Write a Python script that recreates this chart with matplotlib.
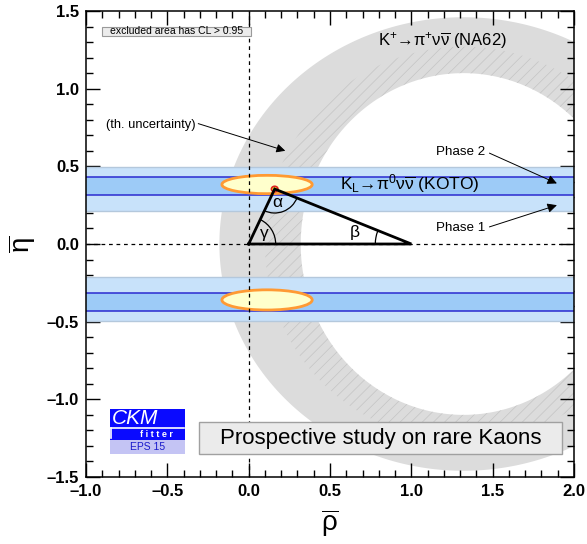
import numpy as np
import matplotlib
matplotlib.use("Agg")
import matplotlib.pyplot as plt
from matplotlib.patches import Rectangle, Ellipse, PathPatch, Arc
from matplotlib.path import Path
from matplotlib.ticker import MultipleLocator, FuncFormatter

plt.rcParams['font.family'] = ['Liberation Sans', 'DejaVu Sans']
plt.rcParams['mathtext.fontset'] = 'custom'
plt.rcParams['mathtext.rm'] = 'Liberation Sans'
plt.rcParams['mathtext.it'] = 'Liberation Sans:italic'
plt.rcParams['mathtext.bf'] = 'Liberation Sans:bold'
plt.rcParams['mathtext.default'] = 'regular'
plt.rcParams['hatch.linewidth'] = 0.5
plt.rcParams['hatch.color'] = '#c0c0c0'

# ---------------- data ----------------
x_range = [-1.0, 2.0]
y_range = [-1.5, 1.5]
tick_major = 0.5
tick_minor = 0.1

# K+ -> pi+ nu nubar (NA62) ring: center rho, semi-axes (rho, eta)
na62_center = 1.32
na62_outer = [1.50, 1.46]
na62_mid = [1.22, 1.27]
na62_inner = [1.00, 1.10]

# KOTO bands (eta ranges), mirrored in eta
koto_phase1 = [0.21, 0.495]
koto_phase2 = [0.315, 0.43]

# combined fit regions (center rho, center eta, width, height)
fit_upper = [0.113, 0.383, 0.555, 0.118]
fit_lower = [0.113, -0.36, 0.555, 0.13]

# unitarity triangle apex
apex = [0.16, 0.354]

# ---------------- figure ----------------
fig = plt.figure(figsize=(5.87, 5.44), dpi=100)
ax = fig.add_axes([86/587, 1-477/544, 488/587, 466/544])
ax.set_xlim(*x_range)
ax.set_ylim(*y_range)


def ellipse_pts(c, a, b, n=400, reverse=False):
    t = np.linspace(0, 2*np.pi, n)
    if reverse:
        t = t[::-1]
    return np.column_stack([c + a*np.cos(t), b*np.sin(t)])


def ring_path(c, outer, inner):
    o = ellipse_pts(c, outer[0], outer[1])
    i = ellipse_pts(c, inner[0], inner[1], reverse=True)
    verts = np.vstack([o, i])
    codes = np.full(len(verts), Path.LINETO)
    codes[0] = Path.MOVETO
    codes[len(o)] = Path.MOVETO
    return Path(verts, codes)


ax.add_patch(PathPatch(ring_path(na62_center, na62_outer, na62_inner),
                       facecolor='#dcdcdc', edgecolor='none', zorder=1))
ax.add_patch(PathPatch(ring_path(na62_center, na62_mid, na62_inner),
                       facecolor='none', edgecolor='#c4c4c4', lw=0,
                       hatch='///', zorder=1.1))

# KOTO bands
for s in (1, -1):
    lo, hi = sorted([s*koto_phase1[0], s*koto_phase1[1]])
    ax.axhspan(lo, hi, color='#c8e2fa', zorder=2, lw=0)
    ax.axhline(lo, color='#b4c8dc', lw=1.0, zorder=2.1)
    ax.axhline(hi, color='#b4c8dc', lw=1.0, zorder=2.1)
    lo2, hi2 = sorted([s*koto_phase2[0], s*koto_phase2[1]])
    ax.axhspan(lo2, hi2, color='#9dcbf7', zorder=2.2, lw=0)
    ax.axhline(lo2, color='#2b2bd0', lw=1.1, zorder=2.3)
    ax.axhline(hi2, color='#2b2bd0', lw=1.1, zorder=2.3)

# combined fit regions
for f in (fit_upper, fit_lower):
    ax.add_patch(Ellipse((f[0], f[1]), f[2], f[3], facecolor='#ffffcc',
                         edgecolor='#ff9a33', lw=2.0, zorder=3))
ax.add_patch(Ellipse((apex[0], apex[1]), 0.04, 0.035, facecolor='#ffff33',
                     edgecolor='#e02020', lw=1.2, zorder=3.5))

# dashed axes lines
ax.axvline(0, color='k', ls=(0, (3, 3)), lw=0.9, zorder=4)
ax.axhline(0, color='k', ls=(0, (3, 3)), lw=0.9, zorder=4)

# triangle
tri_x = [0, 1, apex[0], 0]
tri_y = [0, 0, apex[1], 0]
ax.plot(tri_x, tri_y, color='k', lw=2.0, zorder=5, solid_joinstyle='miter')

# angle arcs (in pixel space -> data)
sx = 488/3.0
sy = 466/3.0


def ang(p, q):
    return np.degrees(np.arctan2((q[1]-p[1])*sy, (q[0]-p[0])*sx))


def arc(p, r_px, a1, a2):
    ax.add_patch(Arc(p, 2*r_px/sx, 2*r_px/sy, theta1=a1, theta2=a2,
                     color='k', lw=0.9, zorder=5))


O = (0, 0); B = (1, 0); A = tuple(apex)
arc(O, 27, 0, ang(O, A))
arc(B, 36, ang(B, A), 180)
arc(A, 24, ang(A, O) % 360, ang(A, B) % 360)
ax.text(0.175, 0.265, 'α', fontsize=12.5, ha='center', va='center', zorder=6)
ax.text(0.655, 0.075, 'β', fontsize=12.5, ha='center', va='center', zorder=6)
ax.text(0.095, 0.07, 'γ', fontsize=12.5, ha='center', va='center', zorder=6)

# labels
ax.text(1.19, 1.31, r'K$^{+}$→π$^{+}$ν$\overline{\nu}$ (NA62)',
        fontsize=12, ha='center', va='center', zorder=6)
ax.text(0.99, 0.39, r'K$_{L}$→π$^{0}$ν$\overline{\nu}$ (KOTO)',
        fontsize=12.5, ha='center', va='center', zorder=6)

ax.text(-0.6, 0.765, '(th. uncertainty)', fontsize=9.3, ha='center', va='center', zorder=6)
ax.annotate('', xy=(0.225, 0.60), xytext=(-0.31, 0.775),
            arrowprops=dict(arrowstyle='-|>', color='k', lw=0.7,
                            mutation_scale=13, shrinkA=0, shrinkB=0), zorder=6)
ax.text(1.30, 0.59, 'Phase 2', fontsize=9.6, ha='center', va='center', zorder=6)
ax.annotate('', xy=(1.895, 0.39), xytext=(1.48, 0.585),
            arrowprops=dict(arrowstyle='-|>', color='k', lw=0.7,
                            mutation_scale=14, shrinkA=0, shrinkB=0), zorder=6)
ax.text(1.305, 0.10, 'Phase 1', fontsize=9.6, ha='center', va='center', zorder=6)
ax.annotate('', xy=(1.895, 0.25), xytext=(1.48, 0.11),
            arrowprops=dict(arrowstyle='-|>', color='k', lw=0.7,
                            mutation_scale=14, shrinkA=0, shrinkB=0), zorder=6)

# excluded area box
ax.add_patch(Rectangle((-0.903, 1.339), 0.92, 0.06, facecolor='#ececec',
                       edgecolor='#9a9a9a', lw=0.8, zorder=6))
ax.text(-0.443, 1.369, 'excluded area has CL > 0.95', fontsize=7.5,
        ha='center', va='center', zorder=7)

# prospective study box
ax.add_patch(Rectangle((-0.305, -1.352), 2.231, 0.206, facecolor='#ebebeb',
                       edgecolor='#a0a0a0', lw=1.0, zorder=6))
ax.text(0.81, -1.249, 'Prospective study on rare Kaons', fontsize=16,
        ha='center', va='center', zorder=7)

# CKMfitter logo
ax.add_patch(Rectangle((-0.852, -1.262), 0.46, 0.2, facecolor='#0a0aff',
                       edgecolor='none', zorder=6))
ax.add_patch(Rectangle((-0.852, -1.352), 0.46, 0.09, facecolor='#c4c4f4',
                       edgecolor='none', zorder=6))
ax.plot([-0.845, -0.40], [-1.185, -1.185], color='white', lw=1.2, zorder=7)
ax.plot([-0.845, -0.845], [-1.185, -1.25], color='white', lw=1.2, zorder=7)
ax.text(-0.70, -1.122, 'CKM', fontsize=15, style='italic', color='white',
        ha='center', va='center', zorder=7)
ax.text(-0.57, -1.225, 'f i t t e r', fontsize=6.5, weight='bold', color='white',
        ha='center', va='center', zorder=7)
ax.text(-0.622, -1.31, 'EPS 15', fontsize=7.5, color='#1a1acc',
        ha='center', va='center', zorder=7)

# axes styling
ax.xaxis.set_major_locator(MultipleLocator(tick_major))
ax.xaxis.set_minor_locator(MultipleLocator(tick_minor))
ax.yaxis.set_major_locator(MultipleLocator(tick_major))
ax.yaxis.set_minor_locator(MultipleLocator(tick_minor))
ax.tick_params(which='both', direction='in', top=True, right=True, width=1.0)
ax.tick_params(which='major', length=10, labelsize=12, pad=5)
ax.tick_params(which='minor', length=5)
fmt = FuncFormatter(lambda v, p: ('%.1f' % v).replace('-', '\u2013'))
ax.xaxis.set_major_formatter(fmt)
ax.yaxis.set_major_formatter(fmt)
for lab in ax.get_xticklabels() + ax.get_yticklabels():
    lab.set_fontweight('bold')
for sp in ax.spines.values():
    sp.set_linewidth(1.1)
    sp.set_zorder(10)

ax.set_xlabel(r'$\overline{\rho}$', fontsize=20, labelpad=6)
ax.set_ylabel(r'$\overline{\eta}$', fontsize=20, labelpad=6)

fig.savefig('out.png', dpi=100)
